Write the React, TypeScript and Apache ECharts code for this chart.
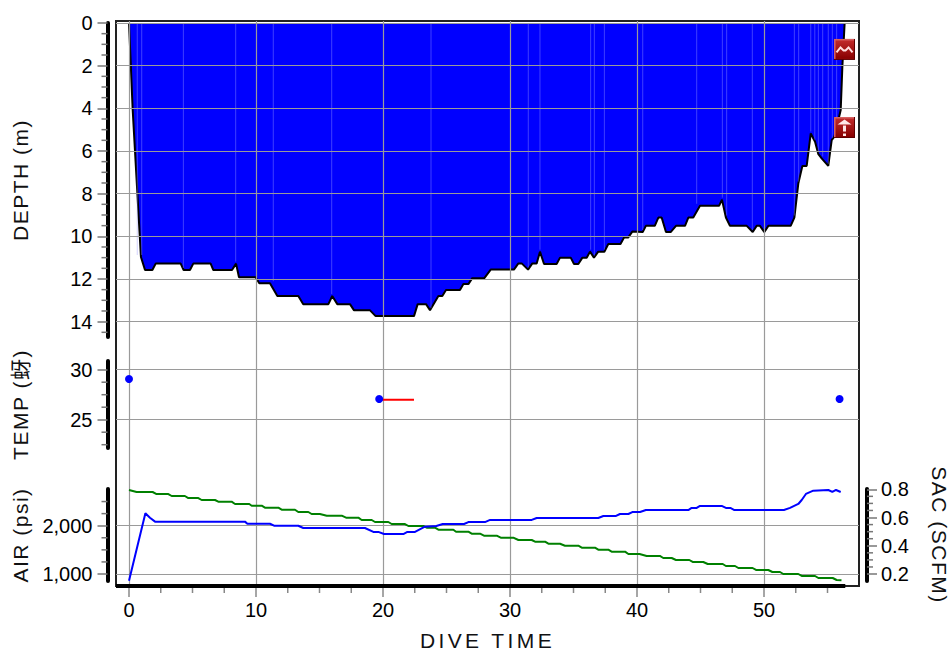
import React, { useEffect, useRef } from "react";
import * as echarts from "echarts";

const timeMajor = [0, 10, 20, 30, 40, 50];
const timeMinor = [2.5, 5, 7.5, 12.5, 15, 17.5, 22.5, 25, 27.5, 32.5, 35, 37.5, 42.5, 45, 47.5, 52.5, 55];
const depthMajor = [0, 2, 4, 6, 8, 10, 12, 14];
const depthMinor = [0.5, 1, 1.5, 2.5, 3, 3.5, 4.5, 5, 5.5, 6.5, 7, 7.5, 8.5, 9, 9.5, 10.5, 11, 11.5, 12.5, 13, 13.5, 14.5];
const tempMajor = [25, 30];
const tempMinor = [22.5, 23.75, 26.25, 27.5, 28.75];
const airMajor = [1000, 2000];
const airMinor = [1250, 1500, 1750, 2250, 2500];
const sacMajor = [0.2, 0.4, 0.6, 0.8];
const sacMinor = [0.25, 0.3, 0.35, 0.45, 0.5, 0.55, 0.65, 0.7, 0.75];

const depthProfile = [
  [0, 0], [0.29, 4.08], [0.94, 10.97], [1.26, 11.58], [1.84, 11.58], [2.1, 11.28], [4.07, 11.28], [4.3, 11.58], [4.8, 11.58],
  [5.06, 11.28], [6.43, 11.28], [6.64, 11.58], [8.11, 11.58], [8.43, 11.28], [8.66, 11.92], [9.97, 11.92], [10.26, 12.2],
  [11.1, 12.2], [11.68, 12.8], [13.33, 12.8], [13.72, 13.18], [15.7, 13.18], [16.0, 12.8], [16.4, 13.18], [17.4, 13.18],
  [17.72, 13.47], [18.98, 13.47], [19.42, 13.74], [22.44, 13.74], [22.73, 13.18], [23.39, 13.18], [23.7, 13.47], [24.36, 12.8],
  [24.67, 12.8], [24.96, 12.52], [26.06, 12.52], [26.33, 12.24], [26.72, 12.24], [27.03, 11.96], [27.98, 11.96], [28.48, 11.56],
  [30.31, 11.56], [30.66, 11.27], [30.92, 11.27], [31.42, 11.56], [31.76, 11.27], [32.1, 11.27], [32.36, 10.72], [32.68, 11.3],
  [33.67, 11.3], [33.94, 11.0], [34.78, 11.0], [35.04, 11.3], [35.38, 11.3], [35.7, 11.0], [36.04, 11.0], [36.3, 10.72],
  [36.61, 11.0], [36.95, 10.72], [37.43, 10.72], [37.74, 10.36], [38.7, 10.36], [38.98, 10.06], [39.3, 10.06], [39.63, 9.78],
  [40.45, 9.8], [40.7, 9.51], [41.4, 9.51], [41.68, 9.12], [41.94, 9.12], [42.28, 9.8], [42.65, 9.8], [43.07, 9.51], [43.78, 9.51],
  [44.04, 9.12], [44.43, 9.12], [44.96, 8.57], [46.46, 8.57], [46.69, 8.28], [47.0, 9.12], [47.32, 9.51], [48.64, 9.51], [49.11, 9.8],
  [49.42, 9.51], [49.68, 9.51], [50.03, 9.8], [50.34, 9.51], [52.1, 9.51], [52.39, 9.12], [52.7, 7.53], [53.02, 6.7], [53.36, 6.7],
  [53.68, 5.18], [54.02, 5.57], [54.28, 6.15], [54.54, 6.35], [55.06, 6.7], [55.33, 5.49], [55.54, 5.33], [56.04, 4.08], [56.17, 2.05],
  [56.35, 0],
];
const seamTimes = [0.65, 1.0, 4.28, 8.4, 11.36, 15.96, 23.78, 31.44, 32.36, 36.35, 36.64, 37.43, 40.45, 44.7, 46.72, 47.06, 49.08, 52.39, 52.73, 53.68, 54, 54.28, 54.62, 55.06, 55.38, 55.72];
const tempPoints = [[0, 29.07], [19.7, 27.07], [55.95, 27.07]];
const tempDash = [[19.7, 27.0], [22.44, 27.0]];
const airValues = [
  [0, 2739], [0.6, 2698], [1.86, 2698], [2.17, 2656], [3.1, 2656], [3.36, 2615], [4.4, 2615], [4.67, 2573], [5.46, 2573], [5.72, 2532],
  [6.77, 2532], [7.03, 2497], [8.08, 2497], [8.35, 2449], [9.47, 2449], [9.66, 2414], [10.45, 2414], [10.7, 2373], [11.76, 2373],
  [12.02, 2331], [13.07, 2331], [13.33, 2284], [14.12, 2284], [14.38, 2242], [15.03, 2242], [15.57, 2207], [16.75, 2207], [17.09, 2166],
  [18.06, 2166], [18.32, 2118], [19.11, 2118], [19.37, 2077], [20.42, 2077], [20.68, 2035], [21.73, 2035], [22, 1994], [23.17, 1994],
  [23.44, 1959], [24.09, 1959], [24.36, 1917], [25.54, 1917], [25.75, 1876], [26.72, 1876], [26.98, 1834], [27.64, 1834], [27.95, 1793],
  [28.95, 1793], [29.27, 1752], [30.26, 1752], [30.66, 1704], [31.71, 1704], [31.97, 1669], [32.76, 1669], [33.02, 1627], [33.94, 1627],
  [34.33, 1586], [35.38, 1586], [35.65, 1545], [36.69, 1545], [36.95, 1503], [37.74, 1503], [38, 1462], [39.06, 1462], [39.32, 1414],
  [40.2, 1414], [40.76, 1373], [41.8, 1373], [42.07, 1331], [42.73, 1331], [43.07, 1290], [44.12, 1290], [44.38, 1249], [45.22, 1249],
  [45.57, 1207], [46.75, 1207], [47, 1166], [47.72, 1166], [47.98, 1124], [49.1, 1124], [49.37, 1083], [50.34, 1083], [50.66, 1041],
  [51.26, 1041], [51.52, 1000], [52.7, 1000], [52.97, 959], [54.02, 959], [54.28, 917], [55.41, 917], [55.72, 876], [56.1, 870],
];
const sacValues = [
  [0, 0.153], [1.29, 0.63], [1.65, 0.599], [2.05, 0.571], [9.13, 0.571], [9.32, 0.556], [11.1, 0.556], [11.42, 0.542], [13.33, 0.542],
  [13.72, 0.526], [18.58, 0.526], [19.24, 0.498], [19.63, 0.498], [20.08, 0.483], [21.6, 0.483], [21.92, 0.498], [22.52, 0.498],
  [23.3, 0.535], [24.2, 0.54], [24.7, 0.554], [26.38, 0.554], [26.72, 0.568], [28.03, 0.568], [28.43, 0.583], [31.71, 0.583], [32.1, 0.597],
  [36.95, 0.597], [37.35, 0.611], [38.35, 0.611], [38.66, 0.625], [39.32, 0.625], [39.63, 0.639], [40.24, 0.639], [40.7, 0.653],
  [44.04, 0.653], [44.3, 0.668], [44.7, 0.668], [44.96, 0.682], [46.67, 0.682], [47, 0.668], [47.35, 0.668], [47.67, 0.653], [51.57, 0.653],
  [52.05, 0.668], [52.7, 0.696], [52.97, 0.724], [53.3, 0.767], [53.88, 0.79], [55.06, 0.795], [55.38, 0.781], [55.67, 0.795], [56.04, 0.781],
];
const eventMarks = [[56.34, 1.24, 0], [56.34, 4.9, 1]];
const bottomBar = [[-1.024, 0], [56.4, 0]];

const FONT = '"Liberation Sans", Arial, "Noto Sans CJK SC", sans-serif';
const X_MIN = -1.024;
const X_MAX = 57.48;
const GRID_COLOR = "#9a9a9a";
const TITLE_FILL = "#111112";
const TIME_FILL = "#111113";
const TICK_COLOR = "#777";

function depthAt(t: number) {
  let best = depthProfile[0];
  for (const p of depthProfile) if (Math.abs(p[0] - t) < Math.abs(best[0] - t)) best = p;
  return best[1];
}

function hiddenX(gridIndex: number) {
  return { type: "value", gridIndex, min: X_MIN, max: X_MAX, show: false, axisLine: { onZero: false } };
}

function yMajor(o: any) {
  const { gridIndex, min, max, values, name, split = true, position = "left", gap = 85, rotate = 90, inverse = false, fmt } = o;
  const isLeft = position === "left";
  return {
    type: "value", gridIndex, min, max, inverse, position, offset: isLeft ? 8.5 : 8, z: 5,
    name, nameLocation: "middle", nameGap: gap, nameRotate: rotate,
    nameTextStyle: { fontFamily: FONT, fontSize: 21, color: TITLE_FILL },
    axisLine: { show: true, onZero: false, lineStyle: { color: "#000", width: 4 } },
    axisTick: { show: true, customValues: values, length: 10, lineStyle: { color: TICK_COLOR, width: 1.5 } },
    axisLabel: { show: true, customValues: values, margin: isLeft ? 15 : 14, fontFamily: FONT, fontSize: 20, color: "#000", formatter: fmt },
    splitLine: { show: split, showMinLine: true, showMaxLine: true, lineStyle: { color: GRID_COLOR, width: 1.2 } },
  };
}

// Minor ticks: placed through the axes' own scales, drawn just outside the axis line.
function minorY(xAxisIndex: number, yAxisIndex: number, values: number[], side: "left" | "right") {
  return {
    type: "custom", xAxisIndex, yAxisIndex, z: 6, silent: true, clip: false,
    data: values.map((v) => [side === "left" ? X_MIN : X_MAX, v]),
    renderItem: (params: any, api: any) => {
      const c = api.coord([api.value(0), api.value(1)]);
      const x1 = side === "left" ? c[0] - 8.5 : c[0] + 8;
      const x2 = side === "left" ? x1 - 6 : x1 + 6;
      return { type: "line", shape: { x1, y1: c[1], x2, y2: c[1] }, style: { stroke: TICK_COLOR, lineWidth: 1.5 } };
    },
  };
}

function minorX(values: number[]) {
  return {
    type: "custom", xAxisIndex: 0, yAxisIndex: 0, z: 6, silent: true, clip: false,
    data: values.map((v) => [v, 0]),
    renderItem: (params: any, api: any) => {
      const c = api.coord([api.value(0), 0]);
      return { type: "line", shape: { x1: c[0], y1: c[1], x2: c[0], y2: c[1] + 7 }, style: { stroke: "#888", lineWidth: 1.5 } };
    },
  };
}

function renderSeam(params: any, api: any) {
  const t = api.value(0);
  const a = api.coord([t, 0]);
  const b = api.coord([t, api.value(1)]);
  return {
    type: "line",
    shape: { x1: a[0], y1: a[1], x2: b[0], y2: b[1] - 2 },
    style: { stroke: "rgba(150,150,255,0.42)", lineWidth: 1 },
  };
}

function renderMark(params: any, api: any) {
  const c = api.coord([api.value(0), api.value(1)]);
  const kind = api.value(2);
  const glyph =
    kind === 0
      ? [{ type: "polyline", shape: { points: [[-8, 3], [-4, -2], [-1, 1], [1, 1], [4, -2], [8, 3]] }, style: { fill: "none", stroke: "#ffe0e0", lineWidth: 2 } }]
      : [
          { type: "polygon", shape: { points: [[-7, -3], [0, -8], [7, -3]] }, style: { fill: "#ffe8e8" } },
          { type: "rect", shape: { x: -1.5, y: -2, width: 3, height: 6 }, style: { fill: "#ffe8e8" } },
          { type: "rect", shape: { x: -1.5, y: 6, width: 3, height: 2.5 }, style: { fill: "#ffe8e8" } },
        ];
  return {
    type: "group",
    x: c[0],
    y: c[1],
    children: [
      { type: "rect", shape: { x: -10.5, y: -10.5, width: 21, height: 21 }, style: { fill: "#5e0000" } },
      { type: "rect", shape: { x: -10.5, y: -10.5, width: 20, height: 20 }, style: { fill: "#d66060" } },
      {
        type: "rect",
        shape: { x: -9, y: -9, width: 18.5, height: 18.5 },
        style: {
          fill: new echarts.graphic.LinearGradient(0, 0, 0, 1, [
            { offset: 0, color: "#c02a2a" },
            { offset: 1, color: "#870000" },
          ]),
        },
      },
      ...glyph,
    ],
  };
}

const depthRange = { min: 0, max: 14.72, inverse: true };
const tempRange = { min: 22.17, max: 30.87 };
const airRange = { min: 855, max: 2760 };
const sacRange = { min: 0.1506, max: 0.802 };
const gridBase = { left: 116, width: 743, outerBoundsMode: "none" };

const option: any = {
  animation: false,
  backgroundColor: "#fff",
  grid: [
    { ...gridBase, top: 21, height: 565, show: true, borderColor: "#222", borderWidth: 2, backgroundColor: "transparent" },
    { ...gridBase, top: 23, height: 314 },
    { ...gridBase, top: 361, height: 87 },
    { ...gridBase, top: 489, height: 92 },
  ],
  xAxis: [
    {
      type: "value", gridIndex: 0, min: X_MIN, max: X_MAX, position: "bottom", z: 5,
      name: "DIVE TIME", nameLocation: "middle", nameGap: 44,
      nameTextStyle: { fontFamily: FONT, fontSize: 21, color: TIME_FILL },
      axisLine: { show: false, onZero: false },
      axisTick: { show: true, customValues: timeMajor, length: 11, lineStyle: { color: "#888", width: 1.5 } },
      axisLabel: { show: true, customValues: timeMajor, margin: 14, fontFamily: FONT, fontSize: 20, color: "#000" },
      splitLine: { show: true, lineStyle: { color: GRID_COLOR, width: 1.2 } },
    },
    hiddenX(1),
    hiddenX(2),
    hiddenX(3),
  ],
  yAxis: [
    { type: "value", gridIndex: 0, min: 0, max: 1, show: false },
    yMajor({ gridIndex: 1, ...depthRange, values: depthMajor, name: "DEPTH (m)", gap: 77 }),
    yMajor({ gridIndex: 2, ...tempRange, values: tempMajor, name: "TEMP (蚜)", gap: 77 }),
    yMajor({ gridIndex: 3, ...airRange, values: airMajor, name: "AIR (psi)", gap: 77, fmt: (v: number) => v.toLocaleString("en-US") }),
    yMajor({ gridIndex: 3, ...sacRange, values: sacMajor, name: "SAC (SCFM)", gap: 62, position: "right", rotate: -90, split: false, fmt: (v: number) => v.toFixed(1) }),
  ],
  series: [
    {
      type: "line", name: "Depth", xAxisIndex: 1, yAxisIndex: 1, data: depthProfile, symbol: "none", z: 2, clip: false,
      lineStyle: { color: "#000", width: 2 }, areaStyle: { color: "#0000ff", opacity: 1 },
    },
    {
      type: "custom", xAxisIndex: 1, yAxisIndex: 1, z: 3, silent: true, clip: false,
      data: seamTimes.map((t) => [t, depthAt(t)]), renderItem: renderSeam,
    },
    {
      type: "custom", xAxisIndex: 1, yAxisIndex: 1, z: 8, silent: true, clip: false,
      data: eventMarks, renderItem: renderMark,
    },
    {
      type: "line", name: "Temp range", xAxisIndex: 2, yAxisIndex: 2, data: tempDash, symbol: "none", z: 6,
      lineStyle: { color: "#ff0000", width: 2 },
    },
    {
      type: "scatter", name: "Temp", xAxisIndex: 2, yAxisIndex: 2, data: tempPoints, symbolSize: 8, z: 7,
      itemStyle: { color: "#0000ff", opacity: 1 },
    },
    {
      type: "line", name: "Air", xAxisIndex: 3, yAxisIndex: 3, data: airValues, symbol: "none", z: 6, clip: false,
      lineStyle: { color: "#008000", width: 2 },
    },
    {
      type: "line", name: "SAC", xAxisIndex: 3, yAxisIndex: 4, data: sacValues, symbol: "none", z: 6, clip: false,
      lineStyle: { color: "#0000ff", width: 2 },
    },
    {
      type: "line", name: "Dive bar", xAxisIndex: 0, yAxisIndex: 0, data: bottomBar, symbol: "none", z: 7, clip: false,
      lineStyle: { color: "#000", width: 4 },
    },
    minorX(timeMinor),
    minorY(1, 1, depthMinor, "left"),
    minorY(2, 2, tempMinor, "left"),
    minorY(3, 3, airMinor, "left"),
    minorY(3, 4, sacMinor, "right"),
  ],
};

export default function App() {
  const ref = useRef<HTMLDivElement>(null);
  useEffect(() => {
    const chart = echarts.init(ref.current!, undefined, { renderer: "svg" });
    chart.setOption(option);
    return () => chart.dispose();
  }, []);
  return (
    <>
      <style>{`
        body { margin: 0; }
        text[fill="${TITLE_FILL}"] { letter-spacing: 1.5px; }
        text[fill="${TIME_FILL}"] { letter-spacing: 3.4px; }
      `}</style>
      <div ref={ref} style={{ position: "absolute", left: 0, top: 0, width: 951, height: 653 }} />
    </>
  );
}
